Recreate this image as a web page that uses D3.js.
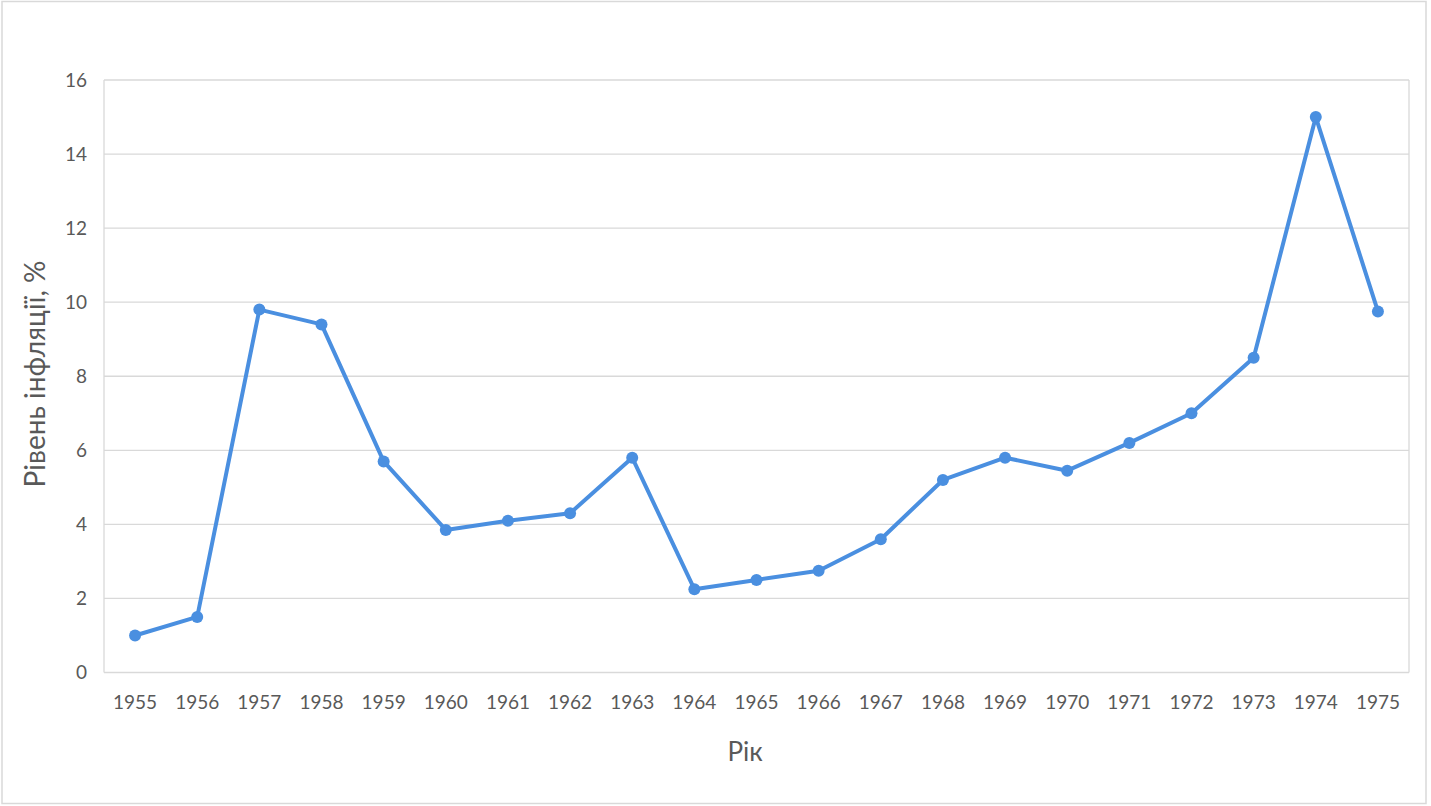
<!DOCTYPE html>
<html>
<head>
<meta charset="utf-8">
<script src="https://cdn.jsdelivr.net/npm/d3@7"></script>
<style>
  body { margin: 0; background: #fff; }
  text { font-family: Lato, "Open Sans", sans-serif; fill: #595959; }
</style>
</head>
<body>
<script>
// data
const years = ["1955","1956","1957","1958","1959","1960","1961","1962","1963","1964",
               "1965","1966","1967","1968","1969","1970","1971","1972","1973","1974","1975"];
const inflation = [1.0, 1.5, 9.8, 9.4, 5.7, 3.85, 4.1, 4.3, 5.8, 2.25,
                   2.5, 2.75, 3.6, 5.2, 5.8, 5.45, 6.2, 7.0, 8.5, 15.0, 9.75];
const yTicks = [0, 2, 4, 6, 8, 10, 12, 14, 16];
const xTitle = "Рік";
const yTitle = "Рівень інфляції, %";

//canvas and plot area
const width = 1431;
const height = 806;
const plot = {left: 104, right: 1409, top: 80, bottom: 672.5};

const svg = d3.select("body").append("svg")
  .attr("width", width).attr("height", height);

//outer chart border
svg.append("rect")
  .attr("x", 2).attr("y", 1.5)
  .attr("width", 1424).attr("height", 802)
  .attr("fill", "#fff")
  .attr("stroke", "#d9d9d9")
  .attr("stroke-width", 1.5);

const x = d3.scaleBand().domain(years).range([plot.left, plot.right]);
const y = d3.scaleLinear().domain([0, 16]).range([plot.bottom, plot.top]);

//horizontal gridlines
svg.append("g")
  .selectAll("line")
  .data(yTicks)
  .enter()
  .append("line")
  .attr("x1", plot.left)
  .attr("x2", plot.right)
  .attr("y1", d => y(d))
  .attr("y2", d => y(d))
  .attr("stroke", "#d9d9d9")
  .attr("stroke-width", 1.3);

//plot area side borders
svg.append("line")
  .attr("x1", plot.left).attr("x2", plot.left)
  .attr("y1", plot.top).attr("y2", plot.bottom)
  .attr("stroke", "#d9d9d9").attr("stroke-width", 1.3);
svg.append("line")
  .attr("x1", plot.right).attr("x2", plot.right)
  .attr("y1", plot.top).attr("y2", plot.bottom)
  .attr("stroke", "#d9d9d9").attr("stroke-width", 1.3);

//y axis labels
const yAxis = svg.append("g")
  .attr("transform", `translate(${plot.left},0)`)
  .call(d3.axisLeft(y).tickValues(yTicks).tickSize(0).tickPadding(17));
yAxis.select(".domain").remove();
yAxis.selectAll("text").style("font-size", "19px").attr("fill", "#595959");

//x axis labels
const xAxis = svg.append("g")
  .attr("transform", `translate(0,${plot.bottom})`)
  .call(d3.axisBottom(x).tickSize(0).tickPadding(23));
xAxis.select(".domain").remove();
xAxis.selectAll("text").style("font-size", "19px").attr("fill", "#595959");

//series line
const cx = d => x(d) + x.bandwidth() / 2;
const line = d3.line()
  .x((d, i) => cx(years[i]))
  .y(d => y(d));

svg.append("path")
  .datum(inflation)
  .attr("d", line)
  .attr("fill", "none")
  .attr("stroke", "#4a8fe0")
  .attr("stroke-width", 4)
  .attr("stroke-linejoin", "round");

svg.append("g")
  .selectAll("circle")
  .data(inflation)
  .enter()
  .append("circle")
  .attr("cx", (d, i) => cx(years[i]))
  .attr("cy", d => y(d))
  .attr("r", 6)
  .attr("fill", "#4a8fe0");

//axis titles
svg.append("text")
  .attr("x", 745)
  .attr("y", 761)
  .attr("text-anchor", "middle")
  .style("font-size", "26px")
  .text(xTitle);

svg.append("text")
  .attr("transform", `translate(45,374) rotate(-90)`)
  .attr("text-anchor", "middle")
  .style("font-size", "28px")
  .text(yTitle);
</script>
</body>
</html>
